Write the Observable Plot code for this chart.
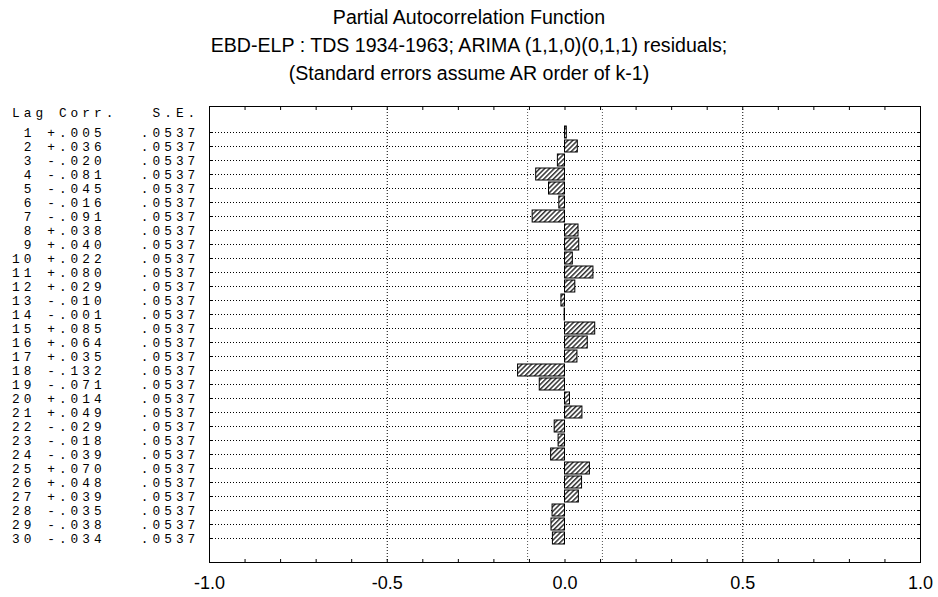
<!DOCTYPE html>
<html><head><meta charset="utf-8">
<script src="https://cdn.jsdelivr.net/npm/d3@7"></script>
<script src="https://cdn.jsdelivr.net/npm/@observablehq/plot@0.6"></script>
<style>
body{margin:0;background:#fff;}
#title{padding-top:3px;height:84px;width:938px;font-family:"Liberation Sans",Arial,sans-serif;font-size:19.6px;line-height:28px;text-align:center;color:#000;}
#chart svg{display:block;}
</style></head><body>
<div id="title"><div>Partial Autocorrelation Function</div><div>EBD-ELP : TDS 1934-1963; ARIMA (1,1,0)(0,1,1) residuals;</div><div>(Standard errors assume AR order of k-1)</div></div>
<div id="chart"></div>
<script>
const lags = [1,2,3,4,5,6,7,8,9,10,11,12,13,14,15,16,17,18,19,20,21,22,23,24,25,26,27,28,29,30];
const pacf = [0.005,0.036,-0.020,-0.081,-0.045,-0.016,-0.091,0.038,0.040,0.022,0.080,0.029,-0.010,-0.001,0.085,0.064,0.035,-0.132,-0.071,0.014,0.049,-0.029,-0.018,-0.039,0.070,0.048,0.039,-0.035,-0.038,-0.034];
const stdErr = [0.0537,0.0537,0.0537,0.0537,0.0537,0.0537,0.0537,0.0537,0.0537,0.0537,0.0537,0.0537,0.0537,0.0537,0.0537,0.0537,0.0537,0.0537,0.0537,0.0537,0.0537,0.0537,0.0537,0.0537,0.0537,0.0537,0.0537,0.0537,0.0537,0.0537];
const xTickLabels = [-1.0,-0.5,0.0,0.5,1.0];
const xMinorTicks = [-1.0,-0.9,-0.8,-0.7,-0.6,-0.5,-0.4,-0.3,-0.2,-0.1,0.0,0.1,0.2,0.3,0.4,0.5,0.6,0.7,0.8,0.9,1.0];
const headerText = "Lag Corr.   S.E.";

const NB = "\u00A0";
const fmtCorr = v => (v < 0 ? "-" : "+") + Math.abs(v).toFixed(3).replace(/^0/, "");
const fmtSE = v => v.toFixed(4).replace(/^0/, "");
const rows = lags.map((lag, i) => ({
  lag, corr: pacf[i], se: stdErr[i],
  label: (String(lag).padStart(2, " ") + " " + fmtCorr(pacf[i]) + "   " + fmtSE(stdErr[i])).replace(/ /g, NB)
}));
const limits = [-1.96 * stdErr[0], 1.96 * stdErr[0]];

const W = 938, H = 510, mL = 209, mR = 18, mT = 19, mB = 35;
const mono = "'Liberation Mono', 'DejaVu Sans Mono', monospace";
const sans = "'Liberation Sans', Arial, sans-serif";
const dotted = "1,2";
const tableFont = 12.8, tableSpacing = 11.7 - 0.6 * 12.8;

const svg = Plot.plot({
  width: W, height: H,
  marginLeft: mL, marginRight: mR, marginTop: mT, marginBottom: mB,
  style: {fontFamily: sans, fontSize: "18px", color: "#000", background: "#fff"},
  x: {domain: [-1, 1], axis: null, label: null},
  y: {type: "band", domain: lags, range: [mT + 9.35, H - mB - 6.65], paddingInner: 0.134, paddingOuter: 0.067, axis: null, label: null},
  marks: [
    Plot.ruleY(lags, {y: d => d, stroke: "#000", strokeWidth: 1, strokeDasharray: dotted}),
    Plot.ruleX([-0.5, 0.5], {stroke: "#000", strokeWidth: 1, strokeDasharray: dotted}),
    Plot.ruleX(limits, {stroke: "#555", strokeWidth: 1, strokeDasharray: dotted}),
    Plot.barX(rows, {y: "lag", x1: 0, x2: "corr", fill: "url(#hatch)", stroke: "#000", strokeWidth: 1}),
    Plot.frame({stroke: "#000", strokeWidth: 1}),
    Plot.axisX(xMinorTicks, {anchor: "bottom", tickSize: -3, tickFormat: () => "", stroke: "#000"}),
    Plot.axisX(xMinorTicks, {anchor: "top", tickSize: -3, tickFormat: () => "", stroke: "#000"}),
    Plot.axisY(lags, {anchor: "left", tickSize: -3, tickFormat: () => "", stroke: "#000"}),
    Plot.axisY(lags, {anchor: "right", tickSize: -3, tickFormat: () => "", stroke: "#000"}),
    Plot.axisX(xTickLabels, {anchor: "bottom", tickSize: 0, tickPadding: 13.5, tickFormat: d => d.toFixed(1), fontSize: 18, fontFamily: sans, fill: "#000"}),
    Plot.text(rows, {y: "lag", text: "label", frameAnchor: "left", textAnchor: "start", dx: 11.6 - mL, fontFamily: mono, fontSize: tableFont, fill: "#000"}),
    Plot.text([headerText.replace(/ /g, NB)], {text: d => d, frameAnchor: "top-left", textAnchor: "start", dx: 11.6 - mL, dy: 1.5, fontFamily: mono, fontSize: tableFont, fill: "#000"})
  ]
});

d3.select(svg).insert("defs", ":first-child").html(
  '<pattern id="hatch" width="3.4" height="3.4" patternUnits="userSpaceOnUse" patternTransform="rotate(45)">' +
  '<rect width="3.4" height="3.4" fill="#fff"/><rect width="1.5" height="3.4" fill="#333"/></pattern>'
);
d3.select(svg).selectAll("g, text").filter(function() {
  const f = this.getAttribute("font-family");
  return f && f.includes("Mono");
}).style("letter-spacing", tableSpacing + "px");

document.getElementById("chart").appendChild(svg);
</script>
</body></html>
